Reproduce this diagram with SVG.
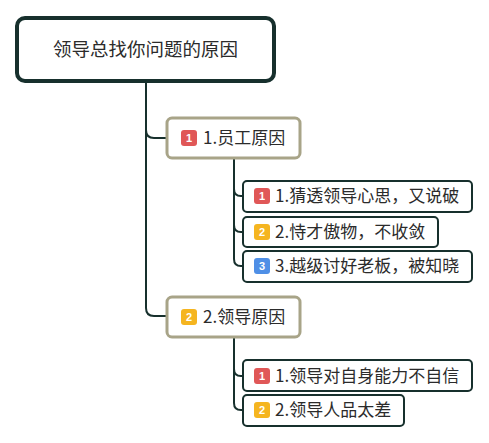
<svg xmlns="http://www.w3.org/2000/svg" width="489" height="443" viewBox="0 0 489 443">
<style>
.t{font-family:"Noto Sans CJK SC","Microsoft YaHei",sans-serif;fill:#2b2b2b}
.root{fill:#fff;stroke:#17302d;stroke-width:4}
.main{fill:#fff;stroke:#a8a488;stroke-width:3}
.sub{fill:#fff;stroke:#17302d;stroke-width:2}
.bt{font-family:"Liberation Sans",Arial,sans-serif;font-size:11px;font-weight:bold;fill:#fff;text-anchor:middle}
.c{fill:none;stroke:#17302d;stroke-width:2}
</style>
<rect width="489" height="443" fill="#fff"/>
<g id="connectors">
<path class="c" d="M146 82 V130 Q146 138 154 138 H167"/>
<path class="c" d="M146 130 V308 Q146 316 154 316 H167"/>
<path class="c" d="M234 158 V189 Q234 196 241 196 H243"/>
<path class="c" d="M234 189 V225 Q234 232 241 232 H243"/>
<path class="c" d="M234 225 V259 Q234 266 241 266 H243"/>
<path class="c" d="M234 337 V369 Q234 376 241 376 H243"/>
<path class="c" d="M234 369 V403 Q234 410 241 410 H243"/>
</g>
<g id="root">
<rect class="root" x="17" y="18" width="257" height="63" rx="8"/>
<text class="t" x="145.5" y="56" font-size="18.5" text-anchor="middle">领导总找你问题的原因</text>
</g>
<g id="n1">
<rect class="main" x="167" y="118" width="133" height="40" rx="5"/>
<rect x="181" y="130" width="16" height="16" rx="3" fill="#e05757"/>
<text class="bt" x="189" y="142">1</text>
<text class="t" x="203" y="144" font-size="17">1.员工原因</text>
</g>
<g id="n11">
<rect class="sub" x="243" y="181" width="229" height="31" rx="4"/>
<rect x="254" y="188" width="16" height="16" rx="3" fill="#e05757"/>
<text class="bt" x="262" y="200">1</text>
<text class="t" x="275" y="202" font-size="17">1.猜透领导心思，又说破</text>
</g>
<g id="n12">
<rect class="sub" x="243" y="217" width="195" height="30" rx="4"/>
<rect x="254" y="224" width="16" height="16" rx="3" fill="#f5b520"/>
<text class="bt" x="262" y="236">2</text>
<text class="t" x="275" y="238" font-size="17">2.恃才傲物，不收敛</text>
</g>
<g id="n13">
<rect class="sub" x="243" y="251" width="229" height="31" rx="4"/>
<rect x="254" y="258" width="16" height="16" rx="3" fill="#4f8fe6"/>
<text class="bt" x="262" y="270">3</text>
<text class="t" x="275" y="272" font-size="17">3.越级讨好老板，被知晓</text>
</g>
<g id="n2">
<rect class="main" x="167" y="297" width="133" height="40" rx="5"/>
<rect x="181" y="309" width="16" height="16" rx="3" fill="#f5b520"/>
<text class="bt" x="189" y="321">2</text>
<text class="t" x="203" y="323" font-size="17">2.领导原因</text>
</g>
<g id="n21">
<rect class="sub" x="243" y="360" width="229" height="31" rx="4"/>
<rect x="254" y="368" width="16" height="16" rx="3" fill="#e05757"/>
<text class="bt" x="262" y="380">1</text>
<text class="t" x="275" y="382" font-size="17">1.领导对自身能力不自信</text>
</g>
<g id="n22">
<rect class="sub" x="243" y="395" width="161" height="31" rx="4"/>
<rect x="254" y="402" width="16" height="16" rx="3" fill="#f5b520"/>
<text class="bt" x="262" y="414">2</text>
<text class="t" x="275" y="416" font-size="17">2.领导人品太差</text>
</g>
</svg>
